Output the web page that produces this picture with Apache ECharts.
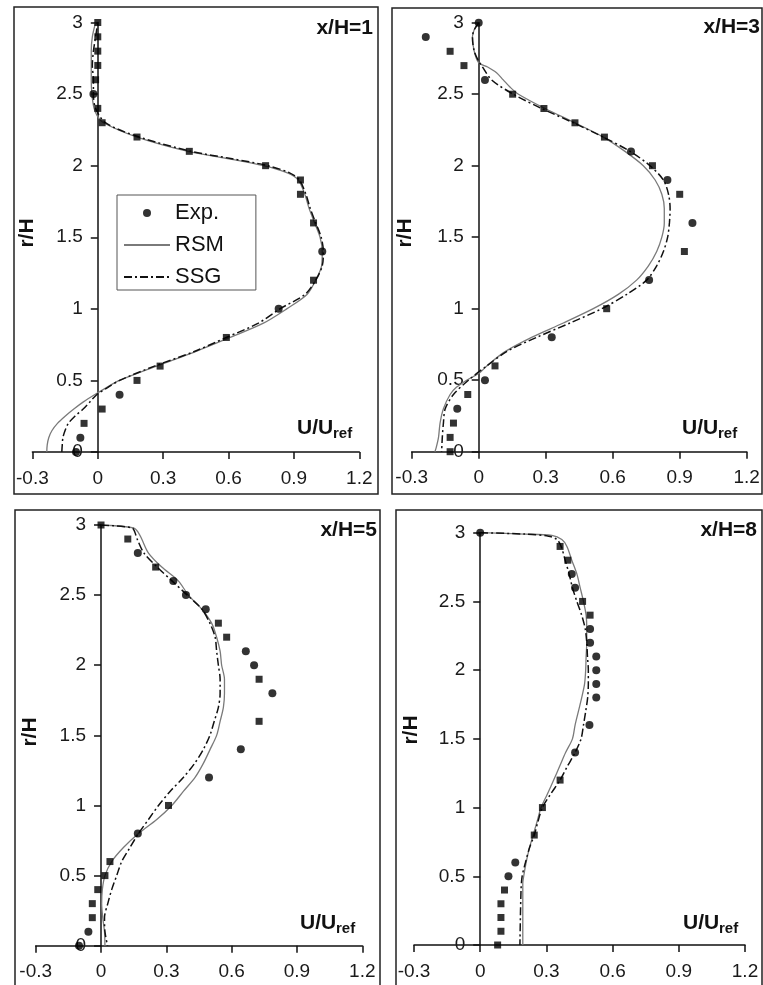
<!DOCTYPE html>
<html>
<head>
<meta charset="utf-8">
<script src="https://cdn.jsdelivr.net/npm/echarts@6/dist/echarts.min.js"></script>
<style>
html,body{margin:0;padding:0;background:#fff;}
#chart{width:763px;height:985px;}
</style>
</head>
<body>
<div id="chart"></div>
<script>
// ---------- DATA (U/Uref, r/H) ----------
const xTicks = [-0.3, 0, 0.3, 0.6, 0.9, 1.2];
const yTicks = [0, 0.5, 1, 1.5, 2, 2.5, 3];
const panelTitles = ['x/H=1', 'x/H=3', 'x/H=5', 'x/H=8'];
const legendNames = ['Exp.', 'RSM', 'SSG'];

// Panel x/H=1
const p1ExpCircle = [[-0.02,2.5],[1.03,1.4],[0.83,1.0],[0.10,0.4],[-0.08,0.1],[-0.10,0.0]];
const p1ExpSquare = [[0,3.0],[0,2.9],[0,2.8],[0,2.7],[-0.01,2.6],[0,2.4],[0.02,2.3],[0.18,2.2],[0.42,2.1],[0.77,2.0],[0.93,1.9],[0.93,1.8],[0.99,1.6],[0.99,1.2],[0.59,0.8],[0.286,0.6],[0.18,0.5],[0.02,0.3],[-0.063,0.2]];
const p1RSM = [[-0.234,0],[-0.232,0.05],[-0.225,0.1],[-0.21,0.15],[-0.185,0.2],[-0.15,0.25],[-0.11,0.3],[-0.066,0.35],[-0.015,0.4],[0.04,0.45],[0.10,0.5],[0.27,0.6],[0.446,0.7],[0.607,0.8],[0.76,0.9],[0.867,1.0],[0.96,1.1],[1.0,1.2],[1.027,1.3],[1.03,1.4],[1.02,1.5],[0.995,1.6],[0.97,1.7],[0.95,1.8],[0.92,1.9],[0.87,1.95],[0.76,2.0],[0.595,2.05],[0.415,2.1],[0.18,2.2],[0.026,2.3],[-0.003,2.35],[-0.017,2.4],[-0.027,2.5],[-0.03,2.6],[-0.03,2.7],[-0.03,2.8],[-0.025,2.9],[-0.01,3.0]];
const p1SSG = [[-0.165,0],[-0.163,0.05],[-0.16,0.1],[-0.15,0.15],[-0.135,0.2],[-0.105,0.25],[-0.067,0.3],[-0.036,0.35],[-0.005,0.4],[0.045,0.45],[0.10,0.5],[0.26,0.6],[0.44,0.7],[0.59,0.8],[0.737,0.9],[0.836,1.0],[0.95,1.1],[1.0,1.2],[1.03,1.3],[1.035,1.4],[1.025,1.5],[1.0,1.6],[0.975,1.7],[0.955,1.8],[0.925,1.9],[0.88,1.95],[0.78,2.0],[0.61,2.05],[0.43,2.1],[0.19,2.2],[0.035,2.3],[-0.01,2.4],[-0.02,2.5],[-0.02,2.6],[-0.025,2.7],[-0.02,2.8],[-0.01,2.9],[0,3.0]];

// Panel x/H=3
const p2ExpCircle = [[0,3.0],[-0.237,2.9],[0.028,2.6],[0.682,2.1],[0.845,1.9],[0.957,1.6],[0.763,1.2],[0.327,0.8],[0.028,0.5],[-0.096,0.3]];
const p2ExpSquare = [[-0.128,2.8],[-0.066,2.7],[0.152,2.5],[0.292,2.4],[0.431,2.3],[0.563,2.2],[0.778,2.0],[0.90,1.8],[0.921,1.4],[0.573,1.0],[0.073,0.6],[-0.049,0.4],[-0.113,0.2],[-0.128,0.1],[-0.128,0.0]];
const p2RSM = [[0,3.0],[-0.02,2.95],[-0.028,2.9],[-0.02,2.8],[0,2.72],[0.04,2.69],[0.08,2.65],[0.11,2.6],[0.14,2.55],[0.178,2.5],[0.297,2.4],[0.431,2.3],[0.558,2.2],[0.655,2.1],[0.737,2.0],[0.79,1.9],[0.82,1.8],[0.831,1.7],[0.831,1.6],[0.82,1.5],[0.797,1.4],[0.76,1.3],[0.707,1.2],[0.625,1.1],[0.513,1.0],[0.379,0.9],[0.237,0.8],[0.118,0.7],[0.036,0.6],[0.003,0.55],[-0.054,0.5],[-0.1,0.45],[-0.128,0.4],[-0.158,0.3],[-0.173,0.2],[-0.18,0.1],[-0.19,0.03],[-0.196,0.0]];
const p2SSG = [[0,3.0],[-0.02,2.95],[-0.028,2.9],[-0.02,2.8],[0,2.73],[0.013,2.7],[0.058,2.6],[0.155,2.5],[0.282,2.4],[0.424,2.3],[0.558,2.2],[0.678,2.1],[0.767,2.0],[0.827,1.9],[0.85,1.8],[0.857,1.7],[0.854,1.6],[0.846,1.5],[0.827,1.4],[0.797,1.3],[0.752,1.2],[0.663,1.1],[0.551,1.0],[0.409,0.9],[0.26,0.8],[0.125,0.7],[0.036,0.6],[-0.046,0.5],[-0.113,0.4],[-0.15,0.3],[-0.158,0.2],[-0.163,0.1],[-0.166,0.0]];

// Panel x/H=5
const p3ExpCircle = [[0.169,2.8],[0.332,2.6],[0.39,2.5],[0.481,2.4],[0.665,2.1],[0.703,2.0],[0.787,1.8],[0.642,1.4],[0.496,1.2],[0.169,0.8],[-0.058,0.1],[-0.101,0.0]];
const p3ExpSquare = [[0,3.0],[0.123,2.9],[0.251,2.7],[0.539,2.3],[0.577,2.2],[0.726,1.9],[0.726,1.6],[0.31,1.0],[0.041,0.6],[0.018,0.5],[-0.015,0.4],[-0.04,0.3],[-0.04,0.2]];
const p3RSM = [[0,3.0],[0.149,2.98],[0.17,2.95],[0.187,2.9],[0.218,2.8],[0.279,2.7],[0.356,2.6],[0.401,2.5],[0.463,2.4],[0.508,2.3],[0.531,2.2],[0.547,2.1],[0.554,2.0],[0.567,1.9],[0.567,1.8],[0.562,1.7],[0.547,1.6],[0.531,1.5],[0.501,1.4],[0.47,1.3],[0.432,1.2],[0.378,1.1],[0.325,1.0],[0.256,0.9],[0.172,0.8],[0.103,0.7],[0.049,0.6],[0.018,0.5],[0.006,0.4],[0.003,0.3],[0.008,0.2],[0.016,0.1],[0.018,0.0]];
const p3SSG = [[0,3.0],[0.143,2.98],[0.155,2.95],[0.166,2.9],[0.197,2.8],[0.258,2.7],[0.327,2.6],[0.396,2.5],[0.463,2.4],[0.50,2.3],[0.524,2.2],[0.531,2.1],[0.539,2.0],[0.547,1.9],[0.547,1.8],[0.539,1.7],[0.52,1.6],[0.50,1.5],[0.47,1.4],[0.43,1.3],[0.378,1.2],[0.317,1.1],[0.264,1.0],[0.218,0.9],[0.172,0.8],[0.133,0.7],[0.095,0.6],[0.072,0.5],[0.049,0.4],[0.031,0.3],[0.016,0.2],[0.018,0.1],[0.03,0.0]];

// Panel x/H=8
const p4ExpCircle = [[0,3.0],[0.415,2.7],[0.43,2.6],[0.498,2.3],[0.498,2.2],[0.526,2.1],[0.526,2.0],[0.526,1.9],[0.526,1.8],[0.495,1.6],[0.43,1.4],[0.159,0.6],[0.128,0.5]];
const p4ExpSquare = [[0.362,2.9],[0.397,2.8],[0.464,2.5],[0.498,2.4],[0.362,1.2],[0.282,1.0],[0.245,0.8],[0.11,0.4],[0.094,0.3],[0.094,0.2],[0.094,0.1],[0.079,0.0]];
const p4RSM = [[0,3.0],[0.2,2.99],[0.325,2.98],[0.37,2.95],[0.393,2.9],[0.415,2.8],[0.438,2.7],[0.453,2.6],[0.468,2.5],[0.48,2.4],[0.483,2.3],[0.483,2.2],[0.48,2.1],[0.478,2.0],[0.473,1.9],[0.46,1.8],[0.445,1.7],[0.43,1.6],[0.418,1.5],[0.387,1.4],[0.36,1.3],[0.333,1.2],[0.305,1.1],[0.276,1.0],[0.258,0.9],[0.24,0.8],[0.222,0.7],[0.208,0.6],[0.197,0.5],[0.193,0.45],[0.193,0.0]];
const p4SSG = [[0,3.0],[0.2,2.99],[0.31,2.975],[0.348,2.95],[0.367,2.9],[0.385,2.8],[0.403,2.7],[0.418,2.6],[0.438,2.5],[0.46,2.4],[0.476,2.3],[0.483,2.2],[0.486,2.1],[0.49,2.0],[0.49,1.9],[0.487,1.8],[0.478,1.7],[0.468,1.6],[0.457,1.5],[0.43,1.4],[0.395,1.3],[0.362,1.2],[0.32,1.1],[0.282,1.0],[0.262,0.9],[0.245,0.8],[0.222,0.7],[0.205,0.6],[0.19,0.5],[0.185,0.4],[0.18,0.0]];

// ---------- LAYOUT / STYLE ----------
const FONT = '"Liberation Sans", Arial, Helvetica, sans-serif';
const panels = [
  {grid:{left:32.4, top:22.5, width:326.9, height:429.5}, frame:[14,7,364,487], circ:p1ExpCircle, sq:p1ExpSquare, rsm:p1RSM, ssg:p1SSG,
   title:[373,28], uu:[297,428], rh:[27,233]},
  {grid:{left:411.7, top:22.7, width:335, height:429}, frame:[392,8,370,486], circ:p2ExpCircle, sq:p2ExpSquare, rsm:p2RSM, ssg:p2SSG,
   title:[760,27], uu:[682,428], rh:[405,233]},
  {grid:{left:35.7, top:525, width:326.6, height:420.7}, frame:[15,510,365,490], circ:p3ExpCircle, sq:p3ExpSquare, rsm:p3RSM, ssg:p3SSG,
   title:[377,530], uu:[300,923], rh:[30,732]},
  {grid:{left:414, top:532.7, width:331, height:412.3}, frame:[396,510,366,490], circ:p4ExpCircle, sq:p4ExpSquare, rsm:p4RSM, ssg:p4SSG,
   title:[757,530], uu:[683,923], rh:[411,730]}
];

const axisColor = '#111';
const labelColor = '#1a1a1a';
const xMin = xTicks[0], xMax = xTicks[xTicks.length - 1];
const grids = [], xAxes = [], yAxes = [], series = [], graphics = [];

panels.forEach((p, i) => {
  grids.push(Object.assign({containLabel:false}, p.grid));
  xAxes.push({
    type:'value', gridIndex:i, min:xMin, max:xMax, interval:0.3,
    axisLine:{show:true, onZero:false, lineStyle:{color:axisColor, width:1.5}},
    axisTick:{show:true, length:7, lineStyle:{color:axisColor, width:1.5}},
    axisLabel:{margin:17, color:labelColor, fontSize:19, fontFamily:FONT,
      formatter: v => String(Math.round(v*10)/10)},
    splitLine:{show:false}
  });
  // y axis sits on x = 0: shift it inward by the pixel distance of 0 from the grid's left edge
  const zeroShift = p.grid.width * (0 - xMin) / (xMax - xMin);
  yAxes.push({
    type:'value', gridIndex:i, min:yTicks[0], max:yTicks[yTicks.length-1], interval:0.5,
    position:'left', offset:-zeroShift,
    axisLine:{show:true, onZero:false, lineStyle:{color:axisColor, width:1.5}},
    axisTick:{show:true, length:7, lineStyle:{color:axisColor, width:1.5}},
    axisLabel:{margin:15, color:labelColor, fontSize:19, fontFamily:FONT,
      formatter: v => String(Math.round(v*10)/10)},
    splitLine:{show:false}
  });
  series.push({
    name:legendNames[1], type:'line', xAxisIndex:i, yAxisIndex:i, data:p.rsm,
    symbol:'none', showSymbol:false, smooth:0.3, z:2,
    lineStyle:{color:'#7a7a7a', width:1.3, type:'solid'}, itemStyle:{color:'#7a7a7a'}
  });
  series.push({
    name:legendNames[2], type:'line', xAxisIndex:i, yAxisIndex:i, data:p.ssg,
    symbol:'none', showSymbol:false, smooth:0.3, z:3,
    lineStyle:{color:'#111', width:1.5, type:[8,3,2,3]}, itemStyle:{color:'#111'}
  });
  series.push({
    name:legendNames[0], type:'scatter', xAxisIndex:i, yAxisIndex:i, data:p.circ,
    symbol:'circle', symbolSize:8, z:4, itemStyle:{color:'#000'}
  });
  series.push({
    name:legendNames[0], type:'scatter', xAxisIndex:i, yAxisIndex:i, data:p.sq,
    symbol:'rect', symbolSize:7, z:4, itemStyle:{color:'#000'}
  });

  graphics.push({type:'rect', silent:true, z:0,
    shape:{x:p.frame[0], y:p.frame[1], width:p.frame[2], height:p.frame[3]},
    style:{fill:'none', stroke:'#222', lineWidth:1.5}});
  graphics.push({type:'text', silent:true, x:p.title[0], y:p.title[1],
    style:{text:panelTitles[i], font:'bold 21px ' + FONT, fill:'#111', align:'right', verticalAlign:'middle'}});
  graphics.push({type:'text', silent:true, x:p.uu[0], y:p.uu[1],
    style:{text:'U/U', font:'bold 21px ' + FONT, fill:'#111', align:'left', verticalAlign:'middle'}});
  graphics.push({type:'text', silent:true, x:p.uu[0] + 36, y:p.uu[1] + 6,
    style:{text:'ref', font:'bold 15px ' + FONT, fill:'#111', align:'left', verticalAlign:'middle'}});
  graphics.push({type:'text', silent:true, x:p.rh[0], y:p.rh[1], rotation:Math.PI/2,
    style:{text:'r/H', font:'bold 21px ' + FONT, fill:'#111', align:'center', verticalAlign:'middle'}});
});

const chart = echarts.init(document.getElementById('chart'), null, {renderer:'canvas'});
chart.setOption({
  animation:false,
  backgroundColor:'#fff',
  grid:grids, xAxis:xAxes, yAxis:yAxes, series:series, graphic:graphics,
  legend:{
    show:true, orient:'vertical', left:117, top:195,
    data:[
      {name:legendNames[0], icon:'circle'},
      {name:legendNames[1], itemStyle:{opacity:0}},
      {name:legendNames[2], itemStyle:{opacity:0}}
    ],
    itemWidth:46, itemHeight:8, itemGap:10,
    padding:[7,32,2,6],
    borderColor:'#555', borderWidth:1, backgroundColor:'#fff',
    textStyle:{fontSize:22, fontFamily:FONT, color:'#111', lineHeight:22},
    selectedMode:false
  }
});
</script>
</body>
</html>
